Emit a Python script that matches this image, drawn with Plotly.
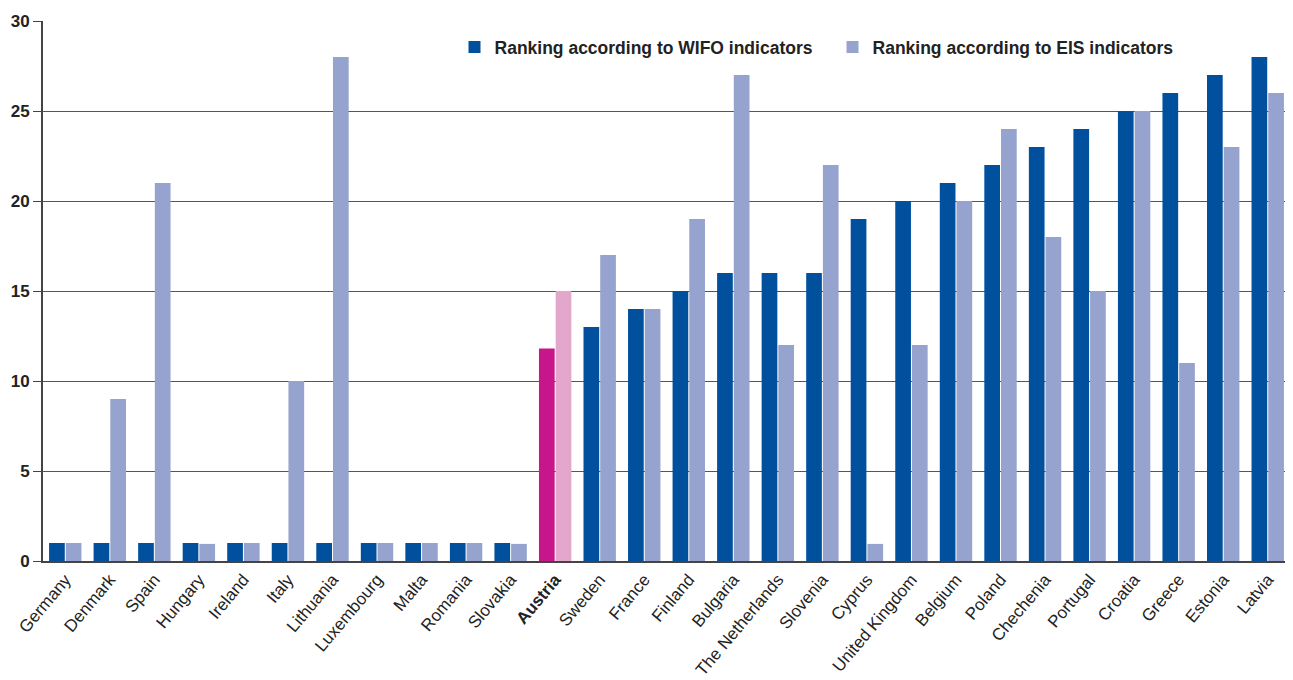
import plotly.graph_objects as go

countries = ["Germany", "Denmark", "Spain", "Hungary", "Ireland", "Italy", "Lithuania",
             "Luxembourg", "Malta", "Romania", "Slovakia", "Austria", "Sweden", "France",
             "Finland", "Bulgaria", "The Netherlands", "Slovenia", "Cyprus", "United Kingdom",
             "Belgium", "Poland", "Chechenia", "Portugal", "Croatia", "Greece", "Estonia", "Latvia"]
wifo_rank = [1, 1, 1, 1, 1, 1, 1, 1, 1, 1, 1, 11.8, 13, 14, 15, 16, 16, 16, 19, 20,
             21, 22, 23, 24, 25, 26, 27, 28]
eis_rank = [1, 9, 21, 0.95, 1, 10, 28, 1, 1, 1, 0.95, 15, 17, 14, 19, 27, 12, 22, 0.95, 12,
            20, 24, 18, 15, 25, 11, 23, 26]

WIFO_C, EIS_C = "#00509e", "#96a3cf"
AUT_WIFO, AUT_EIS = "#c7168b", "#e3a7cb"

wifo_colors = [AUT_WIFO if c == "Austria" else WIFO_C for c in countries]
eis_colors = [AUT_EIS if c == "Austria" else EIS_C for c in countries]
tick_text = ["<b>Austria</b>" if c == "Austria" else c for c in countries]

fig = go.Figure()
fig.add_bar(x=countries, y=wifo_rank, name="<b>Ranking according to WIFO indicators</b>",
            marker=dict(color=wifo_colors, line_width=0))
fig.add_bar(x=countries, y=eis_rank, name="<b>Ranking according to EIS indicators</b>",
            marker=dict(color=eis_colors, line_width=0))

# page body has an 8px margin, so the figure is 8px smaller than the window
fig.update_layout(
    width=1285, height=672,
    barmode="group", bargap=0.25, bargroupgap=0.06,
    plot_bgcolor="white", paper_bgcolor="white",
    margin=dict(l=35, r=3, t=13, b=119),
    font=dict(family="Liberation Sans, Arial, sans-serif", color="#222222"),
    legend=dict(orientation="h", x=0.33, y=0.985, xanchor="left", yanchor="top",
                font=dict(size=17.5, color="#222222"),
                bgcolor="rgba(0,0,0,0)",
                itemwidth=30, entrywidthmode="pixels", entrywidth=333),
    showlegend=True,
)
fig.update_xaxes(tickvals=countries, ticktext=tick_text, tickangle=-50,
                 tickfont=dict(size=17, color="#222222"), showline=True,
                 linecolor="#444444", linewidth=2, ticks="", showgrid=False,
                 automargin=False)
fig.update_yaxes(range=[0, 30], dtick=5, showgrid=True, gridcolor="#555555", gridwidth=1,
                 showline=True, linecolor="#444444", linewidth=2,
                 ticks="outside", ticklen=8, tickcolor="#444444",
                 tickfont=dict(size=17, color="#222222", weight="bold"),
                 zeroline=False, automargin=False)

fig.write_html("out.html")
